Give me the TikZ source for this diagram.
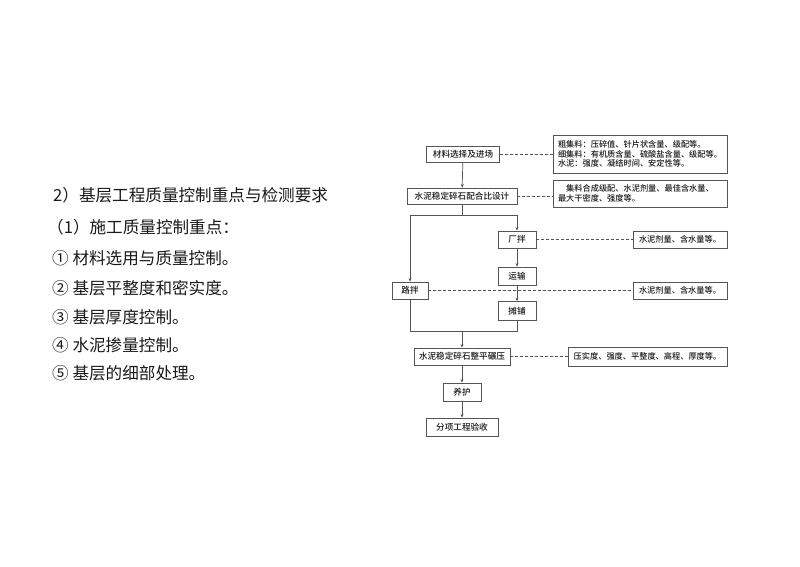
\documentclass[tikz,border=0pt]{standalone}
\usepackage{fontspec}
\setmainfont{Noto Sans CJK SC}
\newfontfamily\fcfont{Noto Sans CJK SC}[UprightFont={* Medium}]
\usetikzlibrary{arrows.meta}
\definecolor{boxgray}{HTML}{555555}
\definecolor{linegray}{HTML}{555555}
\definecolor{txt}{HTML}{1A1A1A}
\tikzset{
  box/.style={draw=boxgray, line width=0.8pt, inner sep=0pt, minimum height=17pt,
    font=\fcfont\fontsize{8.6}{10}\selectfont, text=txt},
  note/.style={box, font=\fcfont\fontsize{8.2}{9.4}\selectfont, align=left, inner xsep=5pt},
  arr/.style={draw=linegray, line width=0.7pt, -{Stealth[length=3.5pt,width=3pt]}},
  conn/.style={draw=linegray, line width=0.7pt},
  dashline/.style={draw=linegray, line width=0.6pt, dash pattern=on 3pt off 2pt},
  lefttxt/.style={anchor=base west, inner sep=0pt, text=txt, font=\fontsize{16.6}{20}\selectfont}
}
\begin{document}
\begin{tikzpicture}[x=1pt,y=-1pt]
\useasboundingbox[fill=white] (0,0) rectangle (800,566);

% left text
\node[lefttxt] (t0) at (53,201) {2）基层工程质量控制重点与检测要求};
\node[lefttxt] (t1) at (47,233) {（1）施工质量控制重点：};
\node[lefttxt] (t2) at (52,264) {① 材料选用与质量控制。};
\node[lefttxt] (t3) at (52,294) {② 基层平整度和密实度。};
\node[lefttxt] (t4) at (52,323) {③ 基层厚度控制。};
\node[lefttxt] (t5) at (52,351) {④ 水泥掺量控制。};
\node[lefttxt] (t6) at (52,379) {⑤ 基层的细部处理。};

% flowchart boxes
\node[box, minimum width=73pt, minimum height=16pt] (A) at (463,154) {材料选择及进场};
\node[box, minimum width=110pt, minimum height=16pt] (B) at (462,196) {水泥稳定碎石配合比设计};
\node[box, minimum width=38pt] (C) at (517,239.5) {厂拌};
\node[box, minimum width=38pt, minimum height=18pt] (D) at (517,276) {运输};
\node[box, minimum width=36pt] (E) at (410,290.5) {路拌};
\node[box, minimum width=38pt, minimum height=19pt] (F) at (517,311) {摊铺};
\node[box, minimum width=96pt] (G) at (462,356.5) {水泥稳定碎石整平碾压};
\node[box, minimum width=38pt, minimum height=18pt] (H) at (462,392) {养护};
\node[box, minimum width=72pt, minimum height=18pt] (I) at (462,427) {分项工程验收};

% note boxes
\node[note, minimum width=174pt, text width=164pt, minimum height=38pt] (R1) at (640,154)
  {粗集料：压碎值、针片状含量、级配等。\\细集料：有机质含量、硫酸盐含量、级配等。\\水泥：强度、凝结时间、安定性等。};
\node[note, minimum width=174pt, text width=164pt, minimum height=27pt] (R2) at (640,193.5)
  {\hspace*{8.2pt}集料合成级配、水泥剂量、最佳含水量、\\最大干密度、强度等。};
\node[box, minimum width=94pt, font=\fcfont\fontsize{8.2}{9.4}\selectfont] (R3) at (680,239.5) {水泥剂量、含水量等。};
\node[box, minimum width=94pt, font=\fcfont\fontsize{8.2}{9.4}\selectfont] (R4) at (680,290.5) {水泥剂量、含水量等。};
\node[box, minimum width=159pt, minimum height=19pt, font=\fcfont\fontsize{8.2}{9.4}\selectfont] (R5) at (647.5,356.5) {压实度、强度、平整度、高程、厚度等。};

% junction coordinates
\coordinate (s1) at (462,215);
\coordinate (sL) at (410,215);
\coordinate (sR) at (517,215);
\coordinate (m1) at (462,331);
\coordinate (mL) at (410,331);
\coordinate (mR) at (517,331);

% dashed connectors
\draw[dashline] (A.east) -- (R1.west);
\draw[dashline] (B.east) -- (B.east -| R2.west);
\draw[dashline] (C.east) -- (R3.west);
\draw[dashline] (E.east) -- (R4.west);
\draw[dashline] (G.east) -- (R5.west);

% solid connectors
\draw[arr] (A) -- (B);
\draw[conn] (B.south) -- (s1);
\draw[conn] (sL) -- (sR);
\draw[arr] (sR) -- (C.north);
\draw[arr] (sL) -- (E.north);
\draw[arr] (C) -- (D);
\draw[arr] (D) -- (F);
\draw[conn] (E.south) -- (mL) -- (mR) -- (F.south);
\draw[arr] (m1) -- (G.north);
\draw[arr] (G) -- (H);
\draw[arr] (H) -- (I);
\end{tikzpicture}
\end{document}
